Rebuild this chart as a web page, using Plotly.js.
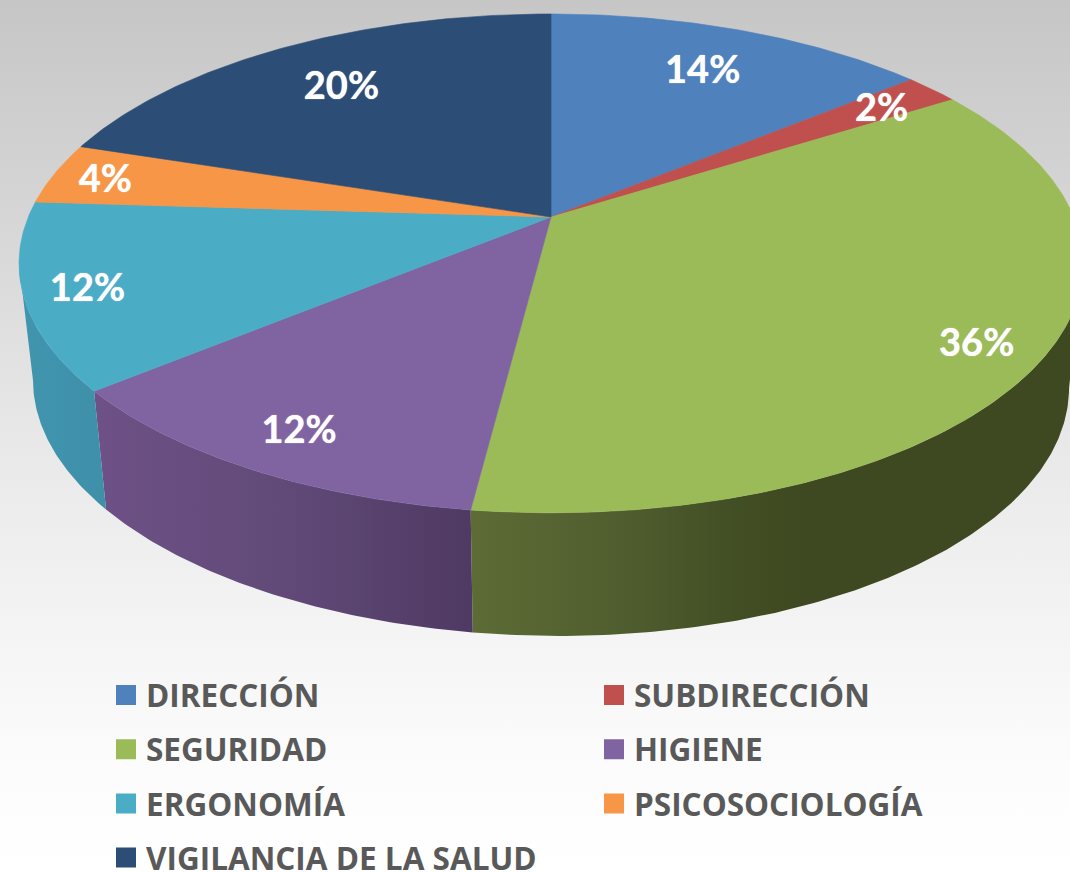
<!DOCTYPE html>
<html><head><meta charset="utf-8">
<script src="https://cdn.plot.ly/plotly-3.0.1.min.js"></script>
<style>
html,body{margin:0;padding:0;width:1070px;height:872px;overflow:hidden;
background:linear-gradient(to bottom,#c6c6c6 0%,#d6d6d6 25%,#e8e8e8 50%,#f4f4f4 72%,#fcfcfc 88%,#ffffff 100%);}
#chart{width:1070px;height:900px;}
</style></head><body><div id="chart"></div>
<script>
// Data
const categories=['DIRECCIÓN','SUBDIRECCIÓN','SEGURIDAD','HIGIENE','ERGONOMÍA','PSICOSOCIOLOGÍA','VIGILANCIA DE LA SALUD'];
const shares=[14,2,36,12,12,4,20];
// Styles
const topColors=['#4f81bd','#c0504d','#9bbb59','#8064a2','#4bacc6','#f79646','#2c4d75'];
const labelDepth=[0.77,0.855,0.88,0.86,0.885,0.895,0.76];
const wallShades={2:[[0,'#5d6b35'],[0.45,'#505e2f'],[0.8,'#424e24'],[1,'#3f4921']],3:[[0,'#6e5187'],[0.5,'#614a78'],[1,'#4f3a63']],4:[[0,'#4096ae'],[1,'#3f8fa9']]};
const wallSpan={2:[471,800],3:[94,471],4:[19,107]};
const figH=900;
// Projection of the tilted disc onto the axes
const cx=551,cy=217,a=522.7,b=240.8,p=0.186;
const botA=509,botB=243.3,botCy=337,botTilt=4;
const topPt=(t,f)=>{const u=Math.sin(t),v=Math.cos(t),d=1+p*f*v;return [cx+a*f*u/d,cy-b*f*v/d];};
const botPt=t=>{const u=Math.sin(t),v=Math.cos(t),d=1+p*v,dx=botA*u/d;return [cx+dx,botCy-botB*v/d+botTilt*dx/518];};
const rad=pct=>pct*2*Math.PI/100;
const silA=Math.acos(-p), silB=2*Math.PI-Math.acos(-p);
const traces=[];
const arc=(s,e)=>{const n=Math.max(4,Math.ceil((e-s)/0.01)),o=[];for(let i=0;i<=n;i++)o.push(s+(e-s)*i/n);return o;};
let cum=0;const spans=shares.map(v=>{const r=[rad(cum),rad(cum+v)];cum+=v;return r;});
// walls
spans.forEach((sp,i)=>{
  const s=Math.max(sp[0],silA),e=Math.min(sp[1],silB);
  if(e<=s)return;
  const ts=arc(s,e);
  const tp=ts.map(t=>topPt(t,1)),bt=ts.map(botPt).reverse();
  const pts=tp.concat(bt);pts.push(tp[0]);
  const stops=wallShades[i];
  traces.push({type:'scatter',mode:'lines',x:pts.map(q=>q[0]),y:pts.map(q=>q[1]),fill:'toself',
    line:{width:0},fillgradient:{type:'horizontal',colorscale:stops,start:wallSpan[i][0],stop:wallSpan[i][1]},
    showlegend:false,hoverinfo:'skip'});
});
// top faces
spans.forEach((sp,i)=>{
  const pts=[[cx,cy]].concat(arc(sp[0],sp[1]).map(t=>topPt(t,1)));pts.push([cx,cy]);
  traces.push({type:'scatter',mode:'lines',x:pts.map(q=>q[0]),y:pts.map(q=>q[1]),fill:'toself',
    fillcolor:topColors[i],line:{width:0.6,color:topColors[i]},name:categories[i],showlegend:false,hoverinfo:'name'});
});
// labels
const labelDrop=5;
let c2=0;const lab=shares.map((v,i)=>{const q=topPt(rad(c2+v/2),labelDepth[i]);c2+=v;return [q[0],q[1]+labelDrop];});
traces.push({type:'scatter',mode:'text',x:lab.map(q=>q[0]),y:lab.map(q=>q[1]),text:shares.map(v=>v+'%'),
  textposition:'middle center',textfont:{family:'Lato, Carlito, sans-serif',size:38,color:'#ffffff',weight:700,shadow:'0 0 1px #ffffff'},showlegend:false,hoverinfo:'skip',cliponaxis:false});
// legend entries
categories.forEach((c,i)=>{
  traces.push({type:'scatter',mode:'markers',x:[null],y:[null],name:c,legend:i%2?'legend2':'legend',legendgroup:c,
    marker:{symbol:'square',size:16,color:topColors[i],line:{width:4,color:topColors[i]}},hoverinfo:'skip'});
});
const legendBase={orientation:'v',bgcolor:'rgba(0,0,0,0)',borderwidth:0,traceorder:'grouped',tracegroupgap:10.25,
  font:{family:'Open Sans, sans-serif',size:31.5,color:'#595959',weight:700},itemclick:false,itemdoubleclick:false,
  xanchor:'left',yanchor:'top',itemwidth:30};
const layout={width:1070,height:figH,margin:{l:0,r:0,t:0,b:0},paper_bgcolor:'rgba(0,0,0,0)',plot_bgcolor:'rgba(0,0,0,0)',
  showlegend:true,
  xaxis:{range:[0,1070],visible:false,fixedrange:true},
  yaxis:{range:[figH,0],visible:false,fixedrange:true},
  legend:Object.assign({},legendBase,{x:106/1070,y:1-668/figH}),
  legend2:Object.assign({},legendBase,{x:594/1070,y:1-668/figH})};
Plotly.newPlot('chart',traces,layout,{displayModeBar:false});
</script></body></html>
